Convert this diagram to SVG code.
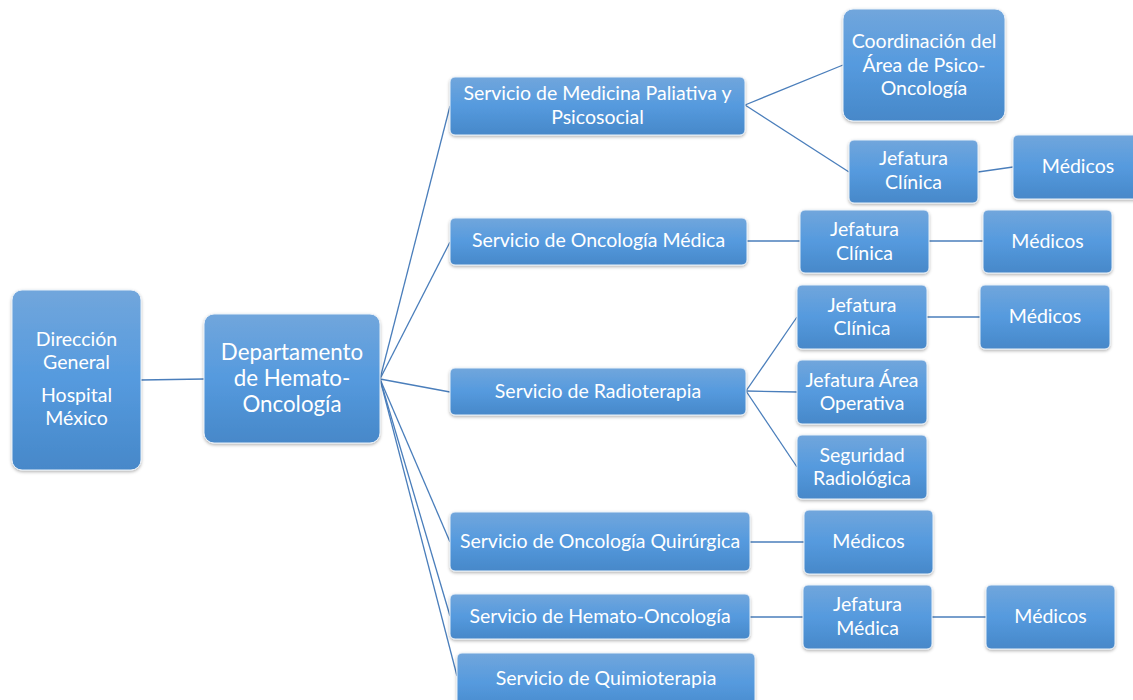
<svg xmlns="http://www.w3.org/2000/svg" width="1133" height="700" viewBox="0 0 1133 700">
<defs>
<linearGradient id="g" x1="0" y1="0" x2="0" y2="1">
<stop offset="0" stop-color="#71a6dc"/>
<stop offset="0.5" stop-color="#559ade"/>
<stop offset="1" stop-color="#4788c9"/>
</linearGradient>
<filter id="sh" x="-10%" y="-10%" width="120%" height="130%">
<feDropShadow dx="0" dy="1.5" stdDeviation="1.5" flood-color="#000" flood-opacity="0.3"/>
</filter>
</defs>
<style>
.b{fill:url(#g);stroke:#e8f0f8;stroke-width:1;filter:url(#sh)}
.t{font-family:Lato,"Liberation Sans",sans-serif;font-size:19.5px;fill:#fff;text-anchor:middle}
.c line{stroke:#4a7ebb;stroke-width:1.3}
</style>
<rect width="1133" height="700" fill="#fff"/>
<g class="c">
<line x1="141" y1="380" x2="204" y2="379"/>
<line x1="380" y1="379" x2="450" y2="106"/>
<line x1="380" y1="379" x2="450" y2="242"/>
<line x1="380" y1="379" x2="450" y2="392"/>
<line x1="380" y1="379" x2="450" y2="542"/>
<line x1="380" y1="379" x2="450" y2="616"/>
<line x1="380" y1="379" x2="457" y2="676"/>
<line x1="745" y1="105" x2="843" y2="65"/>
<line x1="745" y1="105" x2="849" y2="172"/>
<line x1="978" y1="172" x2="1013" y2="167"/>
<line x1="747" y1="241" x2="800" y2="241"/>
<line x1="929" y1="241" x2="983" y2="241"/>
<line x1="746" y1="391" x2="797" y2="317"/>
<line x1="746" y1="391" x2="797" y2="392"/>
<line x1="746" y1="391" x2="797" y2="467"/>
<line x1="927" y1="317" x2="980" y2="317"/>
<line x1="750" y1="542" x2="804" y2="542"/>
<line x1="750" y1="617" x2="803" y2="617"/>
<line x1="932" y1="617" x2="986" y2="617"/>
</g>
<g id="n-direccion"><rect class="b" x="12" y="290" width="129" height="180" rx="10"/>
<text class="t" x="76.5" y="346">Dirección</text><text class="t" x="76.5" y="369">General</text>
<text class="t" x="76.5" y="402">Hospital</text><text class="t" x="76.5" y="425">México</text></g>
<g id="n-depto"><rect class="b" x="204" y="314" width="176" height="129" rx="10"/>
<text class="t" x="292" y="360" style="font-size:22.3px">Departamento</text>
<text class="t" x="292" y="386" style="font-size:22.3px">de Hemato-</text>
<text class="t" x="292" y="412" style="font-size:22.3px">Oncología</text></g>
<g id="n-paliativa"><rect class="b" x="450" y="77" width="295" height="58" rx="5"/>
<text class="t" x="597.5" y="100">Servicio de Medicina Paliativa y</text>
<text class="t" x="597.5" y="124">Psicosocial</text></g>
<g id="n-coord"><rect class="b" x="843" y="9" width="162" height="112" rx="10"/>
<text class="t" x="924" y="48">Coordinación del</text>
<text class="t" x="924" y="72">Área de Psico-</text>
<text class="t" x="924" y="95">Oncología</text></g>
<g id="n-jc1"><rect class="b" x="849" y="140" width="129" height="63" rx="5"/>
<text class="t" x="913.5" y="165">Jefatura</text><text class="t" x="913.5" y="189">Clínica</text></g>
<g id="n-med1"><rect class="b" x="1013" y="135" width="130" height="64" rx="5"/>
<text class="t" x="1078" y="173">Médicos</text></g>
<g id="n-onco"><rect class="b" x="450" y="218" width="297" height="47" rx="5"/>
<text class="t" x="598.5" y="247">Servicio de Oncología Médica</text></g>
<g id="n-jc2"><rect class="b" x="800" y="210" width="129" height="63" rx="5"/>
<text class="t" x="864.5" y="236">Jefatura</text><text class="t" x="864.5" y="260">Clínica</text></g>
<g id="n-med2"><rect class="b" x="983" y="210" width="129" height="63" rx="5"/>
<text class="t" x="1047.5" y="248">Médicos</text></g>
<g id="n-radio"><rect class="b" x="450" y="368" width="296" height="47" rx="5"/>
<text class="t" x="598" y="398">Servicio de Radioterapia</text></g>
<g id="n-jc3"><rect class="b" x="797" y="285" width="130" height="64" rx="5"/>
<text class="t" x="862" y="312">Jefatura</text><text class="t" x="862" y="335">Clínica</text></g>
<g id="n-med3"><rect class="b" x="980" y="285" width="130" height="64" rx="5"/>
<text class="t" x="1045" y="323">Médicos</text></g>
<g id="n-jao"><rect class="b" x="797" y="360" width="130" height="64" rx="5"/>
<text class="t" x="862" y="387">Jefatura Área</text><text class="t" x="862" y="410">Operativa</text></g>
<g id="n-seg"><rect class="b" x="797" y="435" width="130" height="64" rx="5"/>
<text class="t" x="862" y="462">Seguridad</text><text class="t" x="862" y="485">Radiológica</text></g>
<g id="n-quir"><rect class="b" x="450" y="512" width="300" height="59" rx="5"/>
<text class="t" x="600" y="548">Servicio de Oncología Quirúrgica</text></g>
<g id="n-med4"><rect class="b" x="804" y="510" width="129" height="64" rx="5"/>
<text class="t" x="868.5" y="548">Médicos</text></g>
<g id="n-hemato"><rect class="b" x="450" y="594" width="300" height="45" rx="5"/>
<text class="t" x="600" y="623">Servicio de Hemato-Oncología</text></g>
<g id="n-jm"><rect class="b" x="803" y="585" width="129" height="64" rx="5"/>
<text class="t" x="867.5" y="611">Jefatura</text><text class="t" x="867.5" y="635">Médica</text></g>
<g id="n-med5"><rect class="b" x="986" y="585" width="129" height="64" rx="5"/>
<text class="t" x="1050.5" y="623">Médicos</text></g>
<g id="n-quimio"><rect class="b" x="457" y="653" width="298" height="60" rx="5"/>
<text class="t" x="606" y="685">Servicio de Quimioterapia</text></g>
</svg>
